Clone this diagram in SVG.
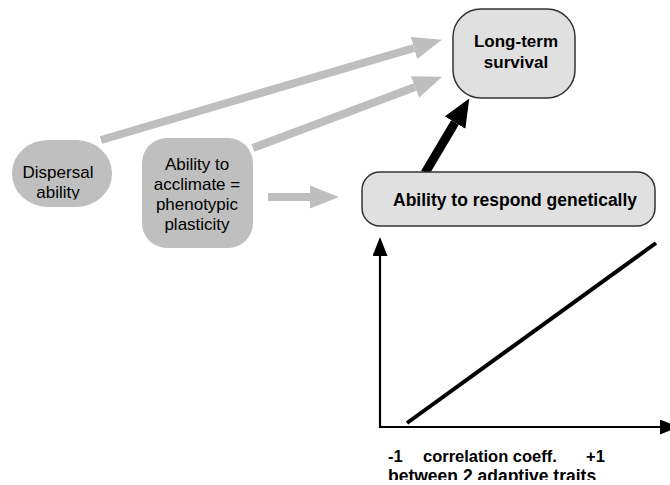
<svg xmlns="http://www.w3.org/2000/svg" width="670" height="485" viewBox="0 0 670 485">
  <style>
    text { font-family: "Liberation Sans", Arial, sans-serif; fill: #000; }
    .lbl { font-size: 17px; text-anchor: middle; }
    .bold { font-weight: bold; }
    .dark { fill: #bfbfbf; stroke: none; }
    .light { fill: #e0e0e0; stroke: #333; stroke-width: 1.5; }
    .grey-link { stroke: #bebebe; stroke-width: 8; fill: none; }
    .black-link { stroke: #000; stroke-width: 9; fill: none; }
    .axis { stroke: #000; stroke-width: 2.2; fill: none; }
  </style>
  <defs>
    <marker id="greyHead" markerUnits="userSpaceOnUse" markerWidth="30" markerHeight="24" refX="0" refY="11.5" orient="auto">
      <path d="M0,0 L29,11.5 L0,23 Z" fill="#bebebe"/>
    </marker>
    <marker id="blackHead" markerUnits="userSpaceOnUse" markerWidth="29" markerHeight="25" refX="0" refY="12" orient="auto">
      <path d="M0,0 L28,12 L0,24 Z" fill="#000"/>
    </marker>
    <marker id="axisHead" markerUnits="userSpaceOnUse" markerWidth="20" markerHeight="16" refX="0" refY="7.5" orient="auto">
      <path d="M0,0 L19,7.5 L0,15 Z" fill="#000"/>
    </marker>
    <clipPath id="clipDispersal">
      <rect x="0" y="0" width="200" height="199.5"/>
    </clipPath>
    <clipPath id="clipBottom">
      <rect x="0" y="0" width="670" height="480"/>
    </clipPath>
  </defs>

  <!-- connectors -->
  <g id="connectors">
    <line class="grey-link" x1="101" y1="140" x2="414" y2="48" marker-end="url(#greyHead)"/>
    <line class="grey-link" x1="253" y1="148" x2="415" y2="87" marker-end="url(#greyHead)"/>
    <line class="grey-link" x1="268" y1="197" x2="310" y2="197" marker-end="url(#greyHead)"/>
    <line class="black-link" x1="425" y1="173" x2="455" y2="122.5" marker-end="url(#blackHead)"/>
  </g>

  <!-- nodes -->
  <g id="node-dispersal">
    <rect class="dark" x="12" y="140" width="100" height="67" rx="36" ry="33"/>
    <g clip-path="url(#clipDispersal)">
      <text class="lbl" x="58" y="178">Dispersal</text>
      <text class="lbl" x="58" y="198">ability</text>
    </g>
  </g>

  <g id="node-acclimate">
    <rect class="dark" x="142" y="138" width="111" height="110" rx="25" ry="25"/>
    <text class="lbl" x="197" y="170">Ability to</text>
    <text class="lbl" x="197" y="190">acclimate =</text>
    <text class="lbl" x="197" y="210">phenotypic</text>
    <text class="lbl" x="197" y="230">plasticity</text>
  </g>

  <g id="node-survival">
    <rect class="light" x="453" y="9" width="122" height="89" rx="28" ry="28"/>
    <text class="lbl bold" x="516" y="47">Long-term</text>
    <text class="lbl bold" x="516" y="68">survival</text>
  </g>

  <g id="node-genetic">
    <rect class="light" x="362" y="172" width="293" height="54" rx="18" ry="18"/>
    <text class="bold" x="393" y="206" font-size="17.5">Ability to respond genetically</text>
  </g>

  <!-- inset graph: response vs. trait correlation -->
  <g id="graph">
    <line class="axis" x1="380" y1="428" x2="380" y2="256" marker-end="url(#axisHead)"/>
    <line class="axis" x1="379" y1="427" x2="660" y2="427" marker-end="url(#axisHead)"/>
    <line x1="407" y1="423" x2="656" y2="243" stroke="#000" stroke-width="4"/>
    <g clip-path="url(#clipBottom)">
      <text class="bold" font-size="16.5" y="462"><tspan x="388">-1</tspan><tspan x="423">correlation coeff.</tspan><tspan x="586">+1</tspan></text>
      <text class="bold" font-size="17.5" x="388" y="482">between 2 adaptive traits</text>
    </g>
  </g>
</svg>
